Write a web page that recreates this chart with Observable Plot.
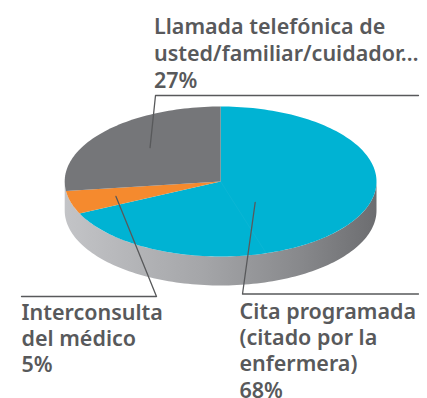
<!DOCTYPE html>
<html><head><meta charset="utf-8">
<script src="https://cdn.jsdelivr.net/npm/d3@7"></script>
<script src="https://cdn.jsdelivr.net/npm/@observablehq/plot@0.6"></script>
<style>html,body{margin:0;padding:0;background:#fff}svg{display:block}</style>
</head><body><div id="c"></div>
<script>
const categories = ["Cita programada", "Interconsulta", "Llamada"];
const shares = [68, 5, 27];
const labels = [
  "Cita programada\n(citado por la\nenfermera)\n68%",
  "Interconsulta\ndel médico\n5%",
  "Llamada telefónica de\nusted/familiar/cuidador…\n27%"
];
const colors = ["#00b3d3", "#f58a2e", "#757679"];

const W = 427, H = 398;
const X0 = 64.2, X1 = 376, Y0 = 106, Y1 = 256, DEPTH = 29;
const px = v => -1 + 2 * (v - X0) / (X1 - X0);
const py = v => 1 - 2 * (v - Y0) / (Y1 - Y0);
const depth = 2 * DEPTH / (Y1 - Y0);
const rad = d => d * Math.PI / 180;
const onRim = (a, r = 1, drop = 0) => ({x: r * Math.sin(rad(a)), y: r * Math.cos(rad(a)) - drop});

const total = d3.sum(shares);
let acc = 0;
const slices = categories.map((c, i) => {
  const a0 = acc / total * 360; acc += shares[i];
  return {c, a0, a1: acc / total * 360};
});
const wedge = slices.flatMap(s => {
  const n = Math.ceil((s.a1 - s.a0) / 1.5);
  const pts = [{x: 0, y: 0, c: s.c}];
  for (let k = 0; k <= n; k++) pts.push({...onRim(s.a0 + (s.a1 - s.a0) * k / n), c: s.c});
  return pts;
});
const wall = [];
for (let a = 90; a <= 270; a += 1.5) wall.push(onRim(a));
for (let a = 270; a >= 90; a -= 1.5) wall.push(onRim(a, 1, depth));

const seams = [163, slices[0].a1].flatMap((a, i) => [{x: 0, y: 0, i}, {...onRim(a), i}]);

const leaders = [
  {c: categories[0], pts: [onRim(141.6, .357), {x: px(242), y: py(293.5)}, {x: px(418), y: py(293.5)}]},
  {c: categories[1], pts: [onRim(253.5, .70), {x: px(156), y: py(296)}, {x: px(21), y: py(296)}]},
  {c: categories[2], pts: [onRim(315, .64), {x: px(155), y: py(95)}, {x: px(418), y: py(95)}]}
].flatMap(l => l.pts.map(p => ({...p, c: l.c})));

const lowerTexts = [
  {t: labels[0], x: px(239), y: py(299.6)},
  {t: labels[1], x: px(21), y: py(300.6)}
];
const upperTexts = [{t: labels[2], x: px(153.5), y: py(14.2)}];
const textStyle = {x: "x", y: "y", text: "t", textAnchor: "start", lineAnchor: "top",
  fontSize: 21.5, fontWeight: 600, fontFamily: "Noto Sans", fill: "#58595b"};

const gradient = () => {
  const ns = "http://www.w3.org/2000/svg";
  const defs = document.createElementNS(ns, "defs");
  const g = document.createElementNS(ns, "linearGradient");
  g.setAttribute("id", "wallGrad");
  [[0, "#c3c4c7"], [.45, "#a4a5a8"], [.75, "#88898c"], [1, "#6c6d70"]].forEach(([o, col]) => {
    const s = document.createElementNS(ns, "stop");
    s.setAttribute("offset", o); s.setAttribute("stop-color", col); g.appendChild(s);
  });
  defs.appendChild(g);
  return defs;
};

const chart = Plot.plot({
  width: W, height: H, margin: 0,
  x: {domain: [-1, 1], range: [X0, X1], axis: null},
  y: {domain: [1, -1], range: [Y0, Y1], axis: null},
  color: {domain: categories, range: colors},
  marks: [
    gradient,
    Plot.line(wall, {x: "x", y: "y", fill: "url(#wallGrad)", stroke: "none"}),
    Plot.line(wedge, {x: "x", y: "y", z: "c", fill: "c", stroke: "none"}),
    Plot.line(seams, {x: "x", y: "y", z: "i", stroke: "#6fcfe3", strokeWidth: 0.4, strokeOpacity: 0.25}),
    Plot.line(leaders, {x: "x", y: "y", z: "c", stroke: "#58595b", strokeWidth: 1.3}),
    Plot.text(lowerTexts, {...textStyle, lineHeight: 1.225}),
    Plot.text(upperTexts, {...textStyle, lineHeight: 1.256})
  ]
});
document.getElementById("c").appendChild(chart);
</script></body></html>
